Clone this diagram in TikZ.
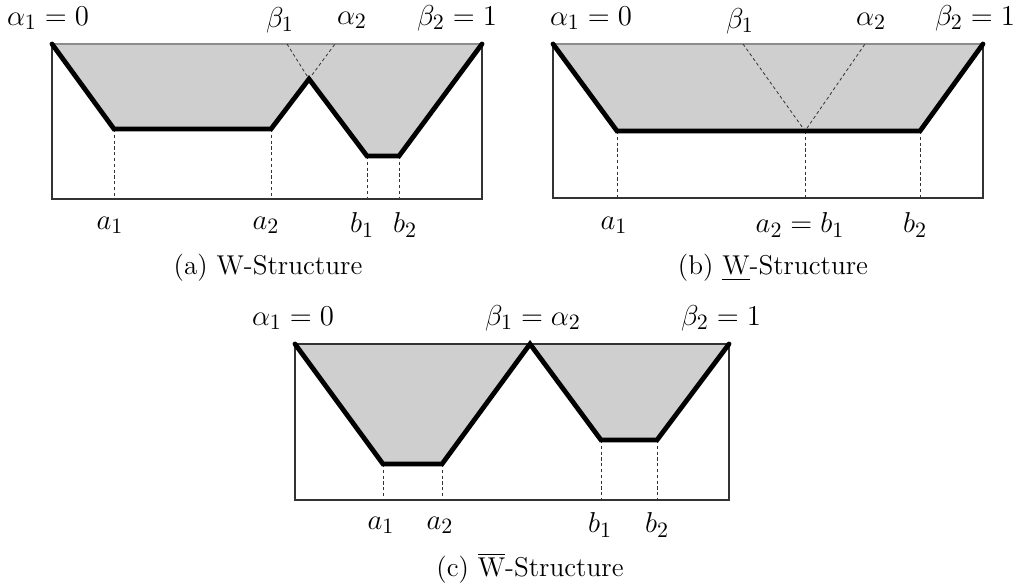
\documentclass[tikz,border=0pt]{standalone}
\usepackage{amsmath}
\begin{document}
\begin{tikzpicture}[x=0.5pt,y=-0.5pt,
  boxline/.style={draw=black!80,line width=0.6pt},
  topline/.style={draw=black!45,line width=0.8pt},
  shade/.style={fill=black!19},
  thickline/.style={line width=2.4pt,line join=miter,line cap=round},
  guide/.style={line width=0.4pt,dash pattern=on 1.6pt off 1.3pt,draw=black!80},
  mlab/.style={font=\fontsize{15}{17}\selectfont,inner sep=0pt},
  captxt/.style={font=\fontsize{13.6}{16}\selectfont,inner sep=0pt}]
\useasboundingbox (0,0) rectangle (1022,586);
% ---------- (a) ----------
\coordinate (aTL) at (52,44);
\coordinate (aTR) at (482,44);
\coordinate (aBL) at (52,199);
\coordinate (aBR) at (482,199);
\coordinate (aA1) at (114,129);
\coordinate (aA2) at (271,129);
\coordinate (aPk) at (309,79);
\coordinate (aB1) at (367,156);
\coordinate (aB2) at (399,156);
\coordinate (aBe) at (287,44);
\coordinate (aAl) at (335,44);
\fill[shade] (aTL) -- (aA1) -- (aA2) -- (aPk) -- (aB1) -- (aB2) -- (aTR) -- cycle;
\draw[boxline] (aTL) -- (aBL) -- (aBR) -- (aTR);
\draw[topline] (aTL) -- (aTR);
\draw[guide] (aBe) -- (aPk) -- (aAl);
\draw[guide] (aA1) -- (aA1 |- aBL);
\draw[guide] (aA2) -- (aA2 |- aBL);
\draw[guide] (aB1) -- (aB1 |- aBL);
\draw[guide] (aB2) -- (aB2 |- aBL);
\draw[thickline] (aTL) -- (aA1) -- (aA2) -- (aPk) -- (aB1) -- (aB2) -- (aTR);
\node[mlab] (la1) at (48,18) {$\alpha_1 = 0$};
\node[mlab] (lb1) at (280,20) {$\beta_1$};
\node[mlab] (la2) at (352,20) {$\alpha_2$};
\node[mlab] (lb2) at (457,18) {$\beta_2 = 1$};
\node[mlab] (xa1) at (110,225) {$a_1$};
\node[mlab] (xa2) at (266,225) {$a_2$};
\node[mlab] (xb1) at (362,225) {$b_1$};
\node[mlab] (xb2) at (405,225) {$b_2$};
\node[captxt] (capa) at (268,268) {(a) W-Structure};
% ---------- (b) ----------
\coordinate (bTL) at (553,44);
\coordinate (bTR) at (983,44);
\coordinate (bBL) at (553,198);
\coordinate (bBR) at (983,198);
\coordinate (bA1) at (617,131);
\coordinate (bM) at (805,131);
\coordinate (bB2) at (920,131);
\coordinate (bBe) at (743,44);
\coordinate (bAl) at (865,44);
\fill[shade] (bTL) -- (bA1) -- (bB2) -- (bTR) -- cycle;
\draw[boxline] (bTL) -- (bBL) -- (bBR) -- (bTR);
\draw[topline] (bTL) -- (bTR);
\draw[guide] (bBe) -- (bM) -- (bAl);
\draw[guide] (bA1) -- (bA1 |- bBL);
\draw[guide] (bM) -- (bM |- bBL);
\draw[guide] (bB2) -- (bB2 |- bBL);
\draw[thickline] (bTL) -- (bA1) -- (bB2) -- (bTR);
\node[mlab] (mb_a1) at (591,18) {$\alpha_1 = 0$};
\node[mlab] (mb_b1) at (740,21) {$\beta_1$};
\node[mlab] (mb_a2) at (871,21) {$\alpha_2$};
\node[mlab] (mb_b2) at (975,18) {$\beta_2 = 1$};
\node[mlab] (yb_a1) at (614,225) {$a_1$};
\node[mlab] (yb_m) at (800,225) {$a_2 = b_1$};
\node[mlab] (yb_b2) at (915,225) {$b_2$};
\node[captxt] (capb) at (773,268) {(b) \underline{W}-Structure};
% ---------- (c) ----------
\coordinate (cTL) at (295,344);
\coordinate (cTR) at (729,344);
\coordinate (cBL) at (295,500);
\coordinate (cBR) at (729,500);
\coordinate (cA1) at (383,464);
\coordinate (cA2) at (442,464);
\coordinate (cPk) at (530,344);
\coordinate (cB1) at (601,440);
\coordinate (cB2) at (657,440);
\fill[shade] (cTL) -- (cA1) -- (cA2) -- (cPk) -- cycle;
\fill[shade] (cPk) -- (cB1) -- (cB2) -- (cTR) -- cycle;
\draw[boxline] (cTL) -- (cBL) -- (cBR) -- (cTR);
\draw[boxline] (cTL) -- (cTR);
\draw[guide] (cA1) -- (cA1 |- cBL);
\draw[guide] (cA2) -- (cA2 |- cBL);
\draw[guide] (cB1) -- (cB1 |- cBL);
\draw[guide] (cB2) -- (cB2 |- cBL);
\draw[thickline] (cTL) -- (cA1) -- (cA2) -- (cPk) -- (cB1) -- (cB2) -- (cTR);
\node[mlab] (mc_a1) at (293,318) {$\alpha_1 = 0$};
\node[mlab] (mc_m) at (533,318) {$\beta_1 = \alpha_2$};
\node[mlab] (mc_b2) at (721,318) {$\beta_2 = 1$};
\node[mlab] (yc_a1) at (381,525) {$a_1$};
\node[mlab] (yc_a2) at (440,525) {$a_2$};
\node[mlab] (yc_b1) at (600,525) {$b_1$};
\node[mlab] (yc_b2) at (657,525) {$b_2$};
\node[captxt] (capc) at (530,568) {(c) $\overline{\text{W}}$-Structure};
\end{tikzpicture}
\end{document}
